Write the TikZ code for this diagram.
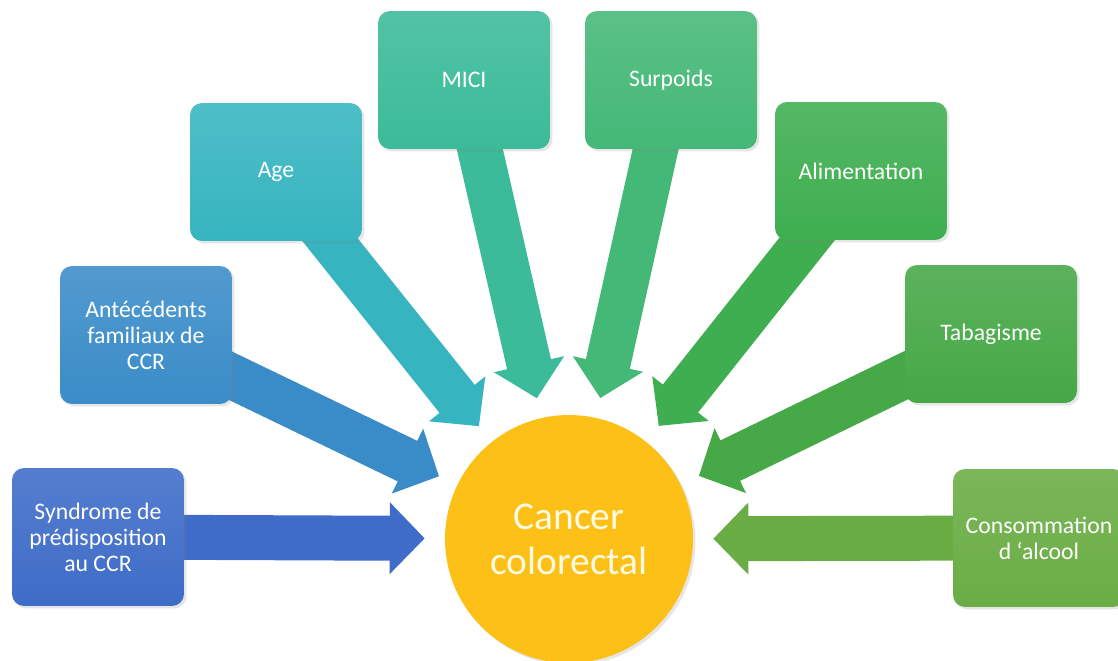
\documentclass[tikz,border=0pt]{standalone}
\usepackage{fontspec}
\setmainfont{Carlito}
\usepackage{xcolor}
\usepackage{tikz}
\usetikzlibrary{arrows.meta, shadows, backgrounds, positioning}
\definecolor{synblue}{RGB}{62,108,200}
\definecolor{antblue}{RGB}{58,140,200}
\definecolor{ageteal}{RGB}{54,181,192}
\definecolor{micigreen}{RGB}{59,187,153}
\definecolor{surpgreen}{RGB}{68,184,119}
\definecolor{alimgreen}{RGB}{62,174,80}
\definecolor{tabgreen}{RGB}{70,168,70}
\definecolor{consgreen}{RGB}{106,173,68}
\definecolor{cancergold}{RGB}{252,192,22}
\definecolor{cream}{RGB}{255,250,228}

\begin{document}
\begin{tikzpicture}[
    x = 0.02cm, y = -0.02cm,
    factor/.style = {
      rectangle, rounded corners = 0.24cm, draw = none,
      top color = #1!88!white, bottom color = #1,
      minimum width = 3.44cm, minimum height = 2.76cm,
      inner sep = 2pt, align = center, text = white,
      font = \fontsize{13.5}{14.8}\selectfont,
      drop shadow = {opacity = 0.2, shadow xshift = 0.05cm, shadow yshift = -0.05cm}
    },
    target/.style = {
      circle, draw = none, fill = cancergold,
      minimum size = 4.96cm, inner sep = 0pt, align = center,
      text = cream, font = \fontsize{22.4}{25.5}\selectfont,
      drop shadow = {opacity = 0.2, shadow xshift = 0.05cm, shadow yshift = -0.05cm}
    },
    % block arrow from a factor towards the circle
    effect/.style = {
      draw = #1, line width = 0.9cm,
      -{Triangle[length = 0.7cm, width = 1.4cm]},
      shorten > = 0.4cm
    },
    ]
\useasboundingbox (0, 0) rectangle (1118, 661);

\node  [target]  (cancer)  at (569, 539)  {Cancer\\colorectal};

\node  [factor = synblue]  (syndrome)  at (98, 537)  {Syndrome de\\prédisposition\\au CCR};
\node  [factor = antblue]  (antecedents)  at (146, 335)  {Antécédents\\familiaux de\\CCR};
\node  [factor = ageteal]  (age)  at (276, 172)  {Age};
\node  [factor = micigreen]  (mici)  at (464, 80)  {MICI};
\node  [factor = surpgreen]  (surpoids)  at (671, 80)  {Surpoids};
\node  [factor = alimgreen]  (alimentation)  at (861, 171)  {Alimentation};
\node  [factor = tabgreen]  (tabagisme)  at (991, 334)  {Tabagisme};
\node  [factor = consgreen]  (alcool)  at (1039, 538)  {Consommation\\d ‘alcool};

\begin{pgfonlayer}{background}
\draw  [effect = synblue]  (syndrome.center)  to  (cancer);
\draw  [effect = antblue]  (antecedents.center)  to  (cancer);
\draw  [effect = ageteal]  (age.center)  to  (cancer);
\draw  [effect = micigreen]  (mici.center)  to  (cancer);
\draw  [effect = surpgreen]  (surpoids.center)  to  (cancer);
\draw  [effect = alimgreen]  (alimentation.center)  to  (cancer);
\draw  [effect = tabgreen]  (tabagisme.center)  to  (cancer);
\draw  [effect = consgreen]  (alcool.center)  to  (cancer);
\end{pgfonlayer}

\end{tikzpicture}
\end{document}
